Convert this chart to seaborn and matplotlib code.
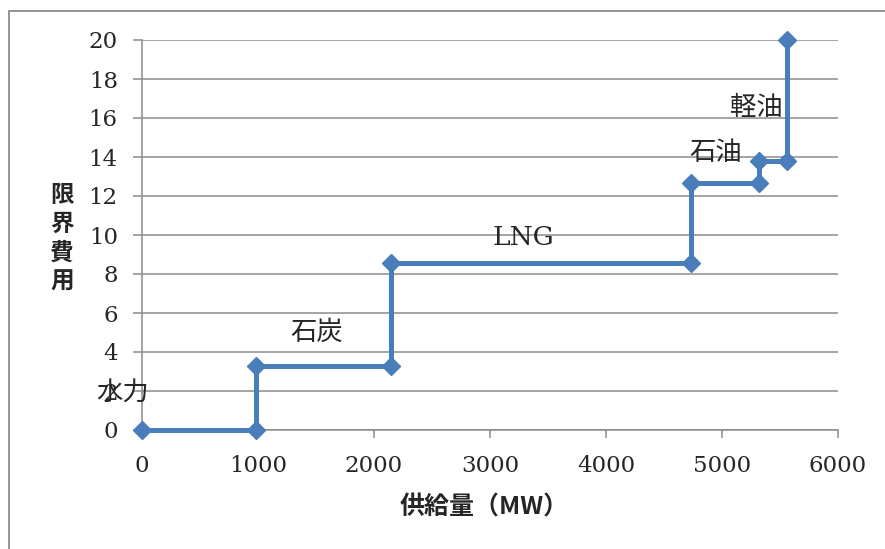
import matplotlib
matplotlib.use("Agg")
import matplotlib.pyplot as plt
from matplotlib.patches import Rectangle
import seaborn as sns
import pandas as pd

# Supply curve vertices (cumulative supply in MW, marginal cost)
supply_mw = [0, 980, 980, 2150, 2150, 4730, 4730, 5320, 5320, 5560, 5560]
marginal_cost = [0, 0, 3.3, 3.3, 8.55, 8.55, 12.65, 12.65, 13.8, 13.8, 20]

# Generation source labels and where they sit (data coordinates)
source_names = ["水力", "石炭", "LNG", "石油", "軽油"]
label_x = [-165, 1510, 3290, 4950, 5300]
label_y = [1.9, 5.0, 9.85, 14.25, 16.55]

x_ticks = [0, 1000, 2000, 3000, 4000, 5000, 6000]
y_ticks = [0, 2, 4, 6, 8, 10, 12, 14, 16, 18, 20]

sns.set_style("white")
plt.rcParams["font.family"] = ["DejaVu Serif", "Noto Sans CJK JP"]

GRID = "#8c8c8c"
BLUE = "#4a7ebb"
JP = ["Noto Sans CJK JP", "DejaVu Sans"]

fig = plt.figure(figsize=(8.85, 5.49), dpi=100)
ax = fig.add_axes([142 / 885, 1 - 430 / 549, (838 - 142) / 885, (430 - 40) / 549])

df = pd.DataFrame({"supply": supply_mw, "cost": marginal_cost})
sns.lineplot(data=df, x="supply", y="cost", sort=False, estimator=None,
             color=BLUE, linewidth=3.6, marker="D", markersize=9.5,
             markeredgecolor=BLUE, markeredgewidth=1, ax=ax)
for ln in ax.lines:
    ln.set_clip_on(False)
    ln.set_zorder(5)

ax.set_xlim(0, 6000)
ax.set_ylim(0, 20)
ax.set_xticks(x_ticks)
ax.set_yticks(y_ticks)
ax.set_xticklabels([str(v) for v in x_ticks])
ax.set_yticklabels([str(v) for v in y_ticks])

# Horizontal gridlines and axis styling
ax.yaxis.grid(True, color=GRID, linewidth=1.1)
ax.xaxis.grid(False)
ax.set_axisbelow(True)
for side in ("top", "right"):
    ax.spines[side].set_visible(False)
for side in ("left", "bottom"):
    ax.spines[side].set_color(GRID)
    ax.spines[side].set_linewidth(1.1)
ax.tick_params(axis="y", which="major", direction="out", length=6.5, width=1.1,
               color=GRID, pad=11, labelsize=16.5, left=True)
ax.tick_params(axis="x", which="major", direction="out", length=6, width=1.1,
               color=GRID, pad=12, labelsize=16.5, bottom=True)

ax.set_xlabel("")
ax.set_ylabel("")
fig.text(484 / 885, 1 - 507 / 549, "供給量（MW）", fontsize=18, fontweight="bold",
         family=JP, ha="center", va="center")
fig.text(62 / 885, 1 - 238 / 549, "限\n界\n費\n用", fontsize=17, fontweight="bold",
         family=JP, ha="center", va="center", linespacing=1.25)

for name, lx, ly in zip(source_names, label_x, label_y):
    if name.isascii():
        ax.text(lx, ly, name, fontsize=19, family=["DejaVu Serif"], ha="center",
                va="center", clip_on=False, zorder=6)
    else:
        ax.text(lx, ly, name, fontsize=19, family=JP, ha="center", va="center",
                clip_on=False, zorder=6)

# Chart frame
fig.patches.append(Rectangle((9 / 885, -0.05), 1.2, 1 - 11 / 549 + 0.05,
                             transform=fig.transFigure, fill=False,
                             edgecolor=GRID, linewidth=1.3))

fig.savefig("out.png", dpi=100)
